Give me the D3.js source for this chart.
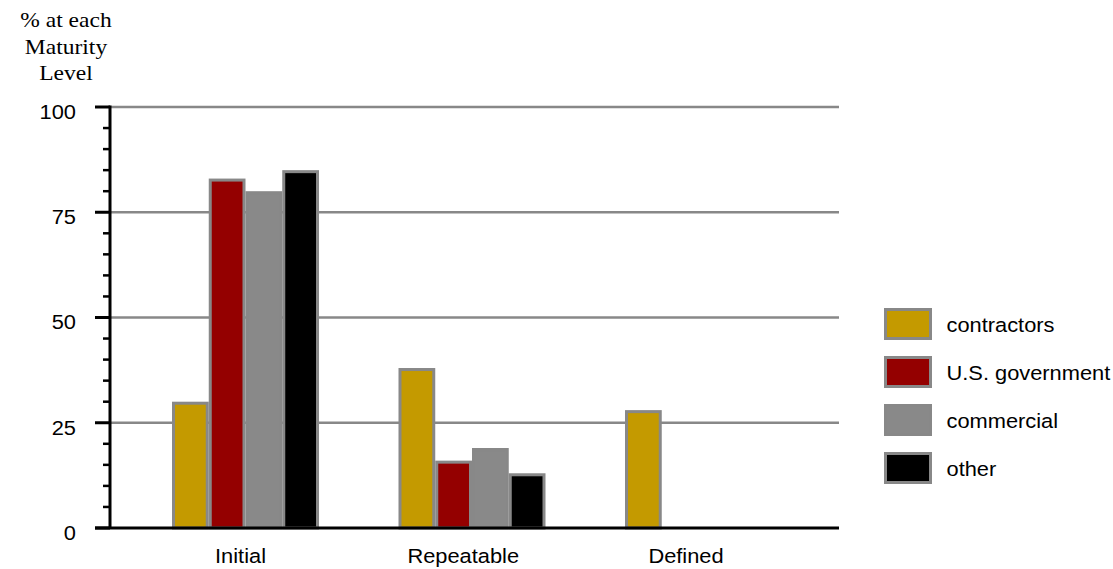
<!DOCTYPE html>
<html><head><meta charset="utf-8">
<script src="https://cdn.jsdelivr.net/npm/d3@7"></script>
<style>body{margin:0;background:#fff}svg{display:block}</style>
</head><body>
<svg id="c" width="1113" height="569"></svg>
<script>
const categories = ["Initial", "Repeatable", "Defined"];
const seriesNames = ["contractors", "U.S. government", "commercial", "other"];
const contractors = [30, 38, 28];
const usGovernment = [83, 16, 0];
const commercial = [80, 19, 0];
const other = [85, 13, 0];
const seriesColors = ["#C49A00", "#940000", "#898989", "#000000"];
const yTicks = [0, 25, 50, 75, 100];
const yTitle = ["% at each", "Maturity", "Level"];

const seriesValues = [contractors, usGovernment, commercial, other];
const svg = d3.select("#c");
const y = d3.scaleLinear().domain([0, 100]).range([528, 107]);
const x0 = d3.scaleBand().domain(categories).range([172, 172 + 3 * 226.5]).padding(0);
const x1 = d3.scaleBand().domain(seriesNames).range([0, 147]).padding(0);
const xl = d3.scalePoint().domain(categories).range([240.5, 686]);
const gridR = 839, axisX = 110;
const SANS = "Liberation Sans, Arial, sans-serif";
const SX = 1.12;

// gridlines
svg.append("g").selectAll("line").data(yTicks.filter(d => d > 0)).join("line")
  .attr("x1", axisX).attr("x2", gridR).attr("y1", d => y(d)).attr("y2", d => y(d))
  .attr("stroke", "#888").attr("stroke-width", 2.5);

// bars
const rows = [];
categories.forEach((c, i) => seriesNames.forEach((s, j) => {
  if (seriesValues[j][i] > 0) rows.push({c, s, v: seriesValues[j][i], col: seriesColors[j]});
}));
svg.append("g").selectAll("rect").data(rows).join("rect")
  .attr("x", d => x0(d.c) + x1(d.s) + 1.5)
  .attr("width", x1.bandwidth() - 3)
  .attr("y", d => y(d.v) + 1.5)
  .attr("height", d => y(0) - y(d.v) - 1.5)
  .attr("fill", d => d.col).attr("stroke", "#888").attr("stroke-width", 3);

// y axis
const yAxis = svg.append("g");
yAxis.append("line").attr("x1", axisX).attr("x2", axisX).attr("y1", y(100) - 1.5).attr("y2", y(0))
  .attr("stroke", "#000").attr("stroke-width", 3);
const minor = d3.range(0, 101, 5).filter(d => d % 25 !== 0);
yAxis.selectAll(".mn").data(minor).join("line").attr("class", "mn")
  .attr("x1", 103).attr("x2", axisX).attr("y1", d => y(d)).attr("y2", d => y(d))
  .attr("stroke", "#000").attr("stroke-width", 2.5);
yAxis.selectAll(".mj").data(yTicks).join("line").attr("class", "mj")
  .attr("x1", 95).attr("x2", axisX).attr("y1", d => y(d)).attr("y2", d => y(d))
  .attr("stroke", "#000").attr("stroke-width", 3);
yAxis.selectAll("text").data(yTicks).join("text")
  .attr("transform", d => `translate(76,${y(d) + 5}) scale(${SX},1)`).attr("dy", "0.35em")
  .attr("text-anchor", "end").attr("font-family", SANS)
  .attr("font-size", 19.5).text(d => d);

// x axis
svg.append("line").attr("x1", 95).attr("x2", gridR).attr("y1", y(0)).attr("y2", y(0))
  .attr("stroke", "#000").attr("stroke-width", 3);
svg.append("g").selectAll("text").data(categories).join("text")
  .attr("transform", d => `translate(${xl(d)},563) scale(${SX},1)`).attr("text-anchor", "middle")
  .attr("font-family", SANS).attr("font-size", 19.5)
  .text(d => d);

// y title
svg.append("g").selectAll("text").data(yTitle).join("text")
  .attr("transform", (d, i) => `translate(66,${27 + i * 26.5}) scale(1.12,1)`).attr("text-anchor", "middle")
  .attr("font-family", "Liberation Serif, Times New Roman, serif").attr("font-size", 21)
  .text(d => d);

// legend
const lg = svg.append("g").selectAll("g").data(seriesNames).join("g")
  .attr("transform", (d, i) => `translate(885.5,${309.5 + i * 48})`);
lg.append("rect").attr("width", 45).attr("height", 29)
  .attr("fill", (d, i) => seriesColors[i]).attr("stroke", "#888").attr("stroke-width", 3);
lg.append("text").attr("transform", `translate(61,16) scale(${SX},1)`).attr("dy", "0.35em")
  .attr("font-family", SANS).attr("font-size", 19.5)
  .text(d => d);
</script>
</body></html>
